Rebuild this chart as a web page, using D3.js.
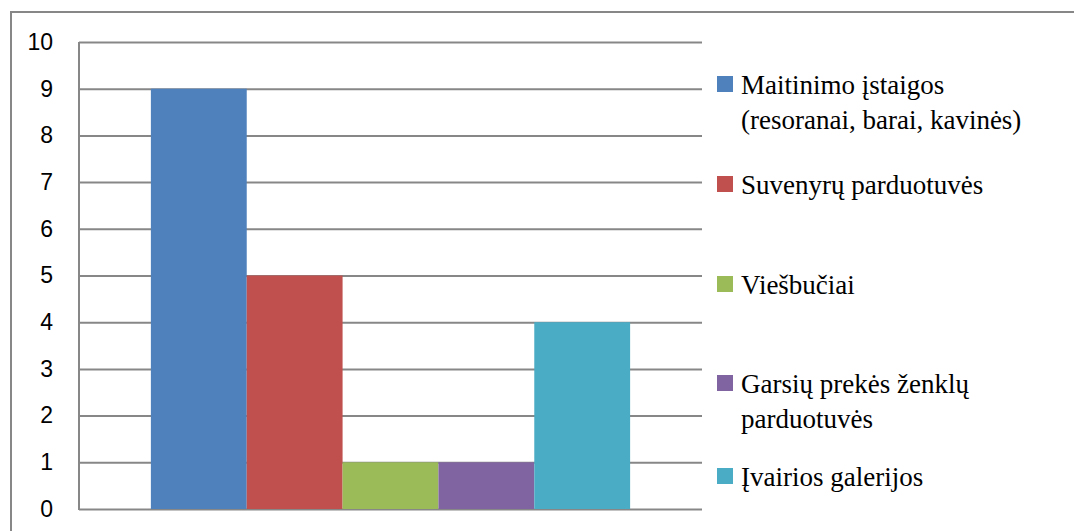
<!DOCTYPE html>
<html>
<head>
<meta charset="utf-8">
<script src="https://cdn.jsdelivr.net/npm/d3@7"></script>
<style>
  body { margin: 0; background: #fff; }
  svg { display: block; }
  .legend-text { font-family: 'Liberation Serif', 'Times New Roman', Tinos, 'Noto Serif', 'DejaVu Serif', 'Nimbus Roman', FreeSerif, serif; font-size: 27px; }
  .tick text { font-family: 'Liberation Sans', Arial, sans-serif; font-size: 23px; }
</style>
</head>
<body>
<div id="chart-container"></div>
<script>
// chart data
const categories = [
  'Maitinimo įstaigos (resoranai, barai, kavinės)',
  'Suvenyrų parduotuvės',
  'Viešbučiai',
  'Garsių prekės ženklų parduotuvės',
  'Įvairios galerijos'
];
const legendLines = [
  ['Maitinimo įstaigos', '(resoranai, barai, kavinės)'],
  ['Suvenyrų parduotuvės'],
  ['Viešbučiai'],
  ['Garsių prekės ženklų', 'parduotuvės'],
  ['Įvairios galerijos']
];
const values = [9, 5, 1, 1, 4];
const colors = ['#4f81bd', '#c0504d', '#9bbb59', '#8064a2', '#4bacc6'];
const yTicks = [0, 1, 2, 3, 4, 5, 6, 7, 8, 9, 10];

const svgWidth = 1074;
const svgHeight = 531;
const margin = {top: 42, left: 79};
const width = 623;
const height = 467;

const svg = d3.select('#chart-container')
  .append('svg')
  .attr('width', svgWidth)
  .attr('height', svgHeight);

// outer chart border
svg.append('rect')
  .attr('x', 11)
  .attr('y', 12)
  .attr('width', 1080)
  .attr('height', 540)
  .attr('fill', 'none')
  .attr('stroke', '#878787')
  .attr('stroke-width', 2);

const g = svg.append('g')
  .attr('transform', `translate(${margin.left},${margin.top})`);

const yScale = d3.scaleLinear()
  .domain([0, 10])
  .range([height, 0]);

// one category group, bars side by side, gap 150% of a bar
const group = d3.scaleBand()
  .domain(['all'])
  .range([0, width])
  .paddingInner(0)
  .paddingOuter(0.15);

const xScale = d3.scaleBand()
  .domain(categories)
  .range([group('all'), group('all') + group.bandwidth()])
  .padding(0);

// gridlines + ticks
const yAxis = g.append('g')
  .call(d3.axisLeft(yScale)
    .tickValues(yTicks)
    .tickSize(8)
    .tickPadding(18)
    .tickFormat(d3.format('d')));
yAxis.attr('font-family', null).attr('font-size', null);
yAxis.select('.domain').remove();
yAxis.selectAll('.tick line')
  .attr('stroke', '#878787')
  .attr('stroke-width', 2)
  .attr('x2', width);
yAxis.selectAll('.tick text')
  .attr('fill', '#000');

// bars
g.selectAll('rect.bar')
  .data(values)
  .enter()
  .append('rect')
  .attr('class', 'bar')
  .attr('x', (d, i) => xScale(categories[i]))
  .attr('y', d => yScale(d))
  .attr('width', xScale.bandwidth())
  .attr('height', d => height - yScale(d))
  .attr('fill', (d, i) => colors[i]);

// y axis line
g.append('line')
  .attr('x1', 0).attr('x2', 0)
  .attr('y1', 0).attr('y2', height + 1)
  .attr('stroke', '#878787')
  .attr('stroke-width', 2);

// legend
const legendY = [84, 184, 284, 383, 476];
const legend = svg.append('g')
  .selectAll('g')
  .data(legendLines)
  .enter()
  .append('g')
  .attr('transform', (d, i) => `translate(717,${legendY[i]})`);

legend.append('rect')
  .attr('x', 0)
  .attr('y', -8)
  .attr('width', 16)
  .attr('height', 16)
  .attr('fill', (d, i) => colors[i]);

legend.append('text')
  .attr('class', 'legend-text')
  .attr('fill', '#000')
  .attr('y', 10)
  .selectAll('tspan')
  .data(d => d)
  .enter()
  .append('tspan')
  .attr('x', 24)
  .attr('dy', (d, i) => i === 0 ? 0 : 35)
  .text(d => d);
</script>
</body>
</html>
